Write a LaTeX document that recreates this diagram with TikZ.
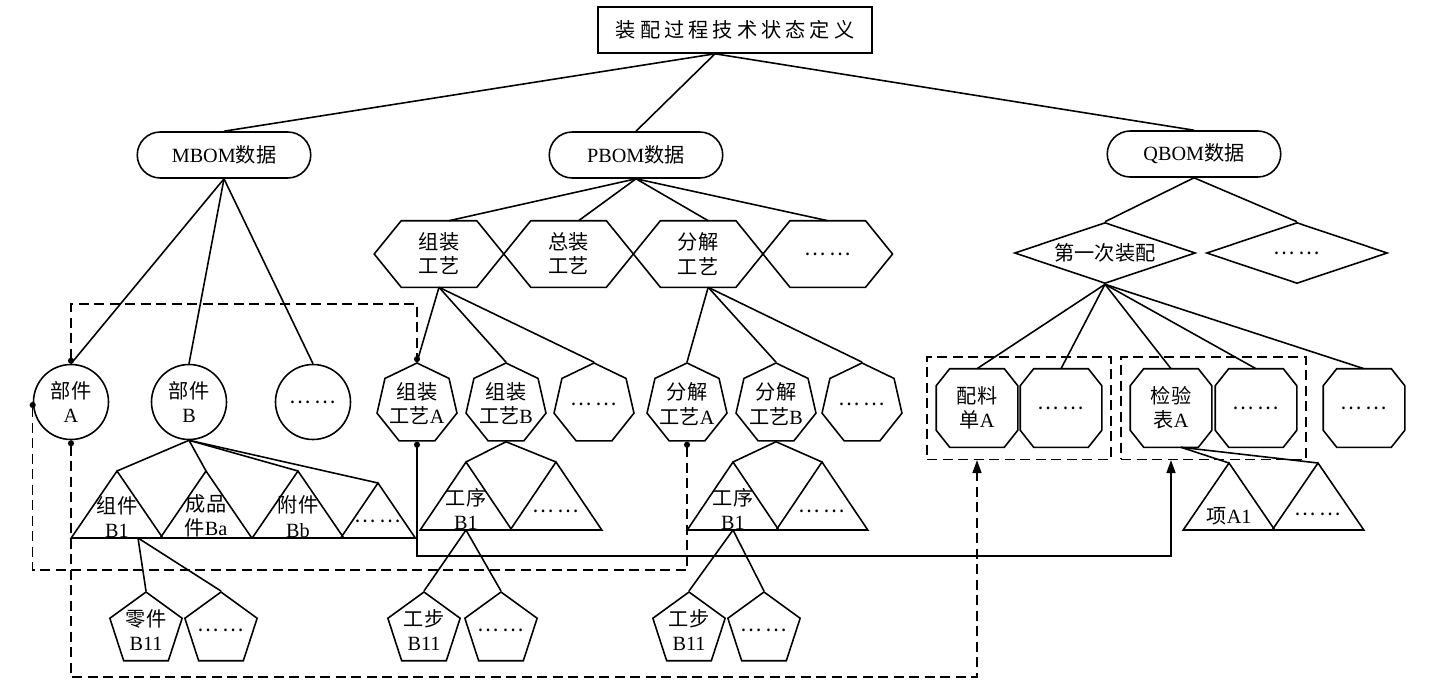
\documentclass[tikz,border=0pt]{standalone}
\usepackage{fontspec}
\setmainfont{Liberation Serif}
\newfontfamily\zh{Noto Sans CJK SC}
\newfontfamily\zhw[LetterSpace=20]{Noto Sans CJK SC}
\usepackage{tikz}
\usetikzlibrary{positioning,arrows.meta,fit,shapes.geometric,shapes.misc}
\newcommand{\dotsz}{{\zh …\,…}}

\begin{document}
\begin{tikzpicture}[
  x=0.2mm, y=-0.2mm,
  font=\fontsize{11.5}{13.7}\selectfont,
  line width=0.9pt,
  >={Triangle[length=2.6mm,width=1.8mm]},
  dashline/.style={dash pattern=on 2mm off 1.1mm},
  bom/.style={draw, rounded rectangle, minimum width=35.4mm, minimum height=9.2mm, inner sep=1pt},
  hexa/.style={minimum width=25.6mm, minimum height=13mm, inner sep=0pt, align=center,
    append after command={\pgfextra{\let\polynode\tikzlastnode
      \draw (\polynode.west) -- ([xshift=5.4mm]\polynode.north west) -- ([xshift=-5.4mm]\polynode.north east)
        -- (\polynode.east) -- ([xshift=-5.4mm]\polynode.south east) -- ([xshift=5.4mm]\polynode.south west) -- cycle;}}},
  octa/.style={minimum width=16mm, minimum height=15.4mm, inner sep=0pt, align=center,
    append after command={\pgfextra{\let\polynode\tikzlastnode
      \draw ([xshift=2.7mm]\polynode.north west) -- ([xshift=-2.7mm]\polynode.north east)
        -- ([yshift=-3.4mm]\polynode.north east) -- ([yshift=3.4mm]\polynode.south east)
        -- ([xshift=-2.7mm]\polynode.south east) -- ([xshift=2.7mm]\polynode.south west)
        -- ([yshift=3.4mm]\polynode.south west) -- ([yshift=-3.4mm]\polynode.north west) -- cycle;}}},
  tri/.style={minimum width=18mm, minimum height=8mm, inner sep=0pt, align=center, anchor=south,
    append after command={\pgfextra{\let\polynode\tikzlastnode
      \coordinate (\polynode-apex) at ([yshift=#1]\polynode.south);
      \draw (\polynode.south west) -- (\polynode-apex) -- (\polynode.south east) -- cycle;}}},
  tri/.default=13.4mm,
  circ/.style={draw, circle, minimum size=15mm, inner sep=0pt, align=center},
  hepta/.style={draw, regular polygon, regular polygon sides=7, minimum size=16.4mm, inner sep=-1mm, align=center},
  penta/.style={draw, regular polygon, regular polygon sides=5, minimum size=15.2mm, inner sep=-1mm, align=center},
  dia/.style={draw, diamond, aspect=3, minimum width=36.2mm, minimum height=12.2mm, inner sep=0pt},
  grp/.style={draw, dashline, inner xsep=1.8mm, inner ysep=2.4mm}
]
  \useasboundingbox (0,0) rectangle (1436,692);

  % Top
  \node[draw, minimum width=54.8mm, minimum height=9.2mm] (top) at (735,30) {\zhw 装配过程技术状态定义};

  % BOM data
  \node[bom] (mb) at (224,155) {MBOM{\zh 数据}};
  \node[bom] (pb) at (636,155) {PBOM{\zh 数据}};
  \node[bom] (qb) at (1194,154) {QBOM{\zh 数据}};

  % MBOM
  \node[circ] (bjA) at (71,402)  {{\zh 部件}\\A};
  \node[circ] (bjB) at (189,402) {{\zh 部件}\\B};
  \node[circ] (bjD) at (313,402) {\dotsz};
  \node[tri] (t1) at (117,538) {{\zh 组件}\\B1};
  \node[tri] (t2) at (206,538) {{\zh 成品}\\{\zh 件}Ba};
  \node[tri] (t3) at (298,538) {{\zh 附件}\\Bb};
  \node[tri=11mm, minimum width=14.6mm, minimum height=6.4mm] (t4) at (378,538) {\dotsz};
  \node[penta] (lj)  at (146,630) {{\zh 零件}\\B11};
  \node[penta] (lj2) at (221,630) {\dotsz};

  % PBOM
  \node[hexa] (hz) at (439,254) {{\zh 组装}\\{\zh 工艺}};
  \node[hexa, right=0pt of hz]  (hzz) {{\zh 总装}\\{\zh 工艺}};
  \node[hexa, right=0pt of hzz] (hfj) {{\zh 分解}\\{\zh 工艺}};
  \node[hexa, right=0pt of hfj] (hd)  {\dotsz};
  \node[hepta] (zzA) at (417,404) {{\zh 组装}\\{\zh 工艺}A};
  \node[hepta] (zzB) at (506,404) {{\zh 组装}\\{\zh 工艺}B};
  \node[hepta] (zzD) at (594,404) {\dotsz};
  \node[hepta] (fjA) at (687,404) {{\zh 分解}\\{\zh 工艺}A};
  \node[hepta] (fjB) at (776,404) {{\zh 分解}\\{\zh 工艺}B};
  \node[hepta] (fjD) at (862,404) {\dotsz};
  \node[tri=13.6mm, minimum height=7.2mm] (gx1) at (466,530) {{\zh 工序}\\B1};
  \node[tri=13.6mm, minimum height=7.2mm] (gx2) at (556,530) {\dotsz};
  \node[tri=13.6mm, minimum height=7.2mm] (gy1) at (733,530) {{\zh 工序}\\B1};
  \node[tri=13.6mm, minimum height=7.2mm] (gy2) at (822,530) {\dotsz};
  \node[penta] (gb1) at (424,630) {{\zh 工步}\\B11};
  \node[penta] (gb2) at (501,630) {\dotsz};
  \node[penta] (gb3) at (689,630) {{\zh 工步}\\B11};
  \node[penta] (gb4) at (764,630) {\dotsz};

  % QBOM
  \node[dia] (d1) at (1105,253) {\zh 第一次装配};
  \node[dia] (d2) at (1297,253) {\dotsz};
  \node[octa] (plA) at (977,408)  {{\zh 配料}\\{\zh 单}A};
  \node[octa] (pl2) at (1061,408) {\dotsz};
  \node[octa] (jyA) at (1171,408) {{\zh 检验}\\{\zh 表}A};
  \node[octa] (jy2) at (1256,408) {\dotsz};
  \node[octa] (q3)  at (1364,408) {\dotsz};
  \node[grp, fit=(plA)(pl2)] (qbx1) {};
  \node[grp, fit=(jyA)(jy2)] (qbx2) {};
  \node[tri, minimum height=5mm] (xa1) at (1229,530) {{\zh 项}A1};
  \node[tri, minimum height=6mm] (xa2) at (1318,530) {\dotsz};

  % Tree lines
  \foreach \n in {mb,pb,qb} \draw ([xshift=-4mm]top.south) -- (\n.north);
  \foreach \n in {bjA,bjB,bjD} \draw (mb.south) -- (\n.north);
  \foreach \n in {hz,hzz,hfj} \draw (pb.south) -- ([xshift=2mm]\n.north);
  \draw (pb.south) -- (hd.north);
  \foreach \n in {d1,d2} \draw (qb.south) -- (\n.north);
  \foreach \n in {zzA,zzB,zzD} \draw (hz.south) -- (\n.north);
  \foreach \n in {fjA,fjB,fjD} \draw ([xshift=2mm]hfj.south) -- (\n.north);
  \foreach \n in {plA,pl2,jyA,jy2,q3} \draw (d1.south) -- (\n.north);
  \foreach \n in {t1,t2,t3,t4} \draw (bjB.south) -- (\n-apex);
  \foreach \n in {gx1,gx2} \draw (zzB.south) -- (\n-apex);
  \foreach \n in {gy1,gy2} \draw (fjB.south) -- (\n-apex);
  \foreach \n in {xa1,xa2} \draw ([xshift=2mm]jyA.south) -- (\n-apex);
  \foreach \n in {lj,lj2} \draw ([xshift=4.2mm]t1.south) -- (\n.north);
  \foreach \n in {gb1,gb2} \draw (gx1.south) -- (\n.north);
  \foreach \n in {gb3,gb4} \draw (gy1.south) -- (\n.north);

  % Links
  \coordinate (yTop) at (0,304);
  \coordinate (yMid) at (0,570);
  \coordinate (yLow) at (0,677);
  \coordinate (ySol) at (0,556);
  \draw[dashline, {Circle[length=1.2mm]}-{Circle[length=1.2mm]}] (bjA.north) |- (zzA.north |- yTop) -- (zzA.north);
  \draw[dashline, {Circle[length=1.2mm]}-{Circle[length=1.2mm]}] (bjA.west) |- (fjA.south |- yMid) -- (fjA.south);
  \draw[dashline, {Circle[length=1.2mm]}->] (bjA.south) |- (plA.south |- yLow) -- (plA.south |- qbx1.south);
  \draw[{Circle[length=1.2mm]}->] (zzA.south) |- (jyA.south |- ySol) -- (jyA.south |- qbx2.south);
\end{tikzpicture}
\end{document}
